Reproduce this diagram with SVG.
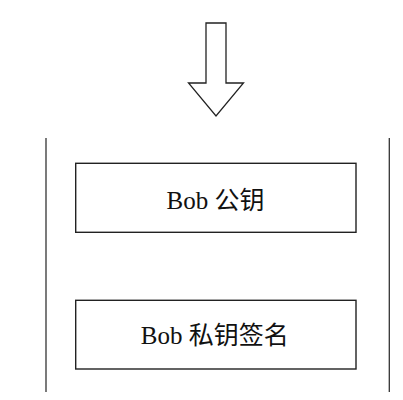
<svg xmlns="http://www.w3.org/2000/svg" width="403" height="400" viewBox="0 0 403 400">
<style>
.box{fill:#fff;stroke:#222;stroke-width:1.4}
.side{stroke:#333;stroke-width:1.3}
.lbl{font-family:"Liberation Serif","Noto Sans CJK SC",serif;font-size:25px;fill:#111;text-anchor:middle}
</style>
<rect width="403" height="400" fill="#fff"/>
<g id="connectors">
<polygon points="206,23 226,23 226,83 243.5,83 216,116 188.5,83 206,83" fill="#fff" stroke="#222" stroke-width="1.3" stroke-linejoin="miter"/>
</g>
<g id="frame">
<line class="side" x1="46" y1="138" x2="46" y2="392"/>
<line class="side" x1="389.3" y1="138" x2="389.3" y2="392"/>
</g>
<g id="pubkey">
<rect class="box" x="75.7" y="163.3" width="280.3" height="69"/>
<text class="lbl" x="215.5" y="209">Bob 公钥</text>
</g>
<g id="signature">
<rect class="box" x="75.7" y="300.3" width="280.3" height="68.7"/>
<text class="lbl" x="214.8" y="344.3">Bob 私钥签名</text>
</g>
</svg>
